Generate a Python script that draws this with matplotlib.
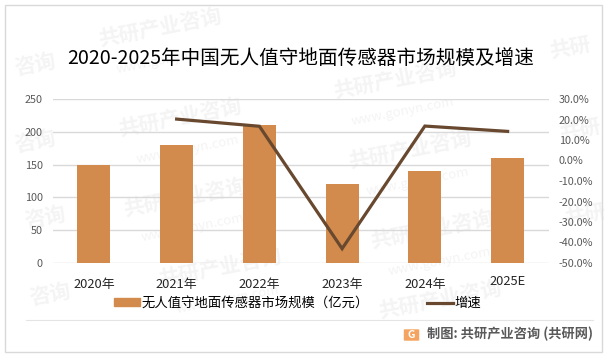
import matplotlib
matplotlib.use('Agg')
import matplotlib.pyplot as plt
import numpy as np
from matplotlib.patches import FancyBboxPatch, Rectangle
from matplotlib.lines import Line2D

plt.rcParams['font.family'] = ['Noto Sans CJK SC', 'DejaVu Sans']

W, H = 609, 358

title = '2020-2025年中国无人值守地面传感器市场规模及增速'
years = ['2020年', '2021年', '2022年', '2023年', '2024年', '2025E']
market_size = [149, 180, 210, 120, 140, 160]
growth = [np.nan, 20.2, 16.7, -43, 16.8, 14.2]
left_ticks = [0, 50, 100, 150, 200, 250]
right_ticks = [-50, -40, -30, -20, -10, 0, 10, 20, 30]
bar_label = '无人值守地面传感器市场规模（亿元）'
line_label = '增速'
source = '制图: 共研产业咨询 (共研网)'

BAR_COLOR = '#d28b4c'
LINE_COLOR = '#68492f'
GRID_COLOR = '#d9d9d9'
TICK_COLOR = '#595959'
MARK_COLOR = '#f4f4f4'

# watermarks: centre in pixels from the top left, then the text
full_mark = '共研产业咨询'
marks = [(160, 28, full_mark), (180, 118, full_mark), (185, 198, full_mark),
         (220, 268, full_mark), (395, 80, full_mark), (410, 150, full_mark),
         (432, 230, full_mark), (440, 300, full_mark), (570, 48, '共研'),
         (580, 130, '共研'), (585, 215, '共研'), (35, 65, '咨询'),
         (35, 142, '咨询'), (45, 218, '咨询'), (50, 295, '咨询')]
urls = [(168, 60), (188, 150), (193, 228), (228, 300), (403, 112), (418, 182),
        (440, 262)]


def fx(px):
    return px / W


def fy(px):
    return 1 - px / H


fig = plt.figure(figsize=(W / 100, H / 100), dpi=100, facecolor='white')

# outer frame
fig.add_artist(Rectangle((fx(4.5), fy(352)), fx(597.5), 347.5 / H, fill=False,
                         edgecolor='#d9d9d9', linewidth=1.0, transform=fig.transFigure))

for mx, my, mtext in marks:
    fig.text(fx(mx), fy(my), mtext, fontsize=15, fontweight='bold', color=MARK_COLOR,
             rotation=11, ha='center', va='center', zorder=-1)
for ux, uy in urls:
    fig.text(fx(ux), fy(uy), 'www.gonyn.com', fontsize=9.5, color=MARK_COLOR,
             rotation=11, ha='center', va='center', zorder=-1)

ax = fig.add_axes([fx(52.5), fy(263), fx(496.5), 164 / H])
ax.patch.set_alpha(0)
x = np.arange(len(years))
ax.bar(x, market_size, width=0.4, color=BAR_COLOR, zorder=2)
ax.set_xlim(-0.5, 5.5)
ax.set_ylim(0, 250)
ax.set_yticks(left_ticks)
ax.set_xticks(x)
ax.set_xticklabels(years, fontsize=9.3, color='#262626')
ax.tick_params(axis='x', length=0, pad=11)
ax.tick_params(axis='y', length=0, pad=7, labelsize=7.8, labelcolor=TICK_COLOR)
ax.grid(axis='y', color=GRID_COLOR, linewidth=1.0, zorder=0)
ax.set_axisbelow(True)
for s in ax.spines.values():
    s.set_visible(False)
# last label sits a little higher in the source
ax.get_xticklabels()[-1].set_y(0.02)

ax2 = ax.twinx()
ax2.plot(x, growth, color=LINE_COLOR, linewidth=2.3, solid_joinstyle='miter', zorder=3)
ax2.set_ylim(-50, 30)
ax2.set_yticks(right_ticks)
ax2.set_yticklabels(['%.1f%%' % t for t in right_ticks])
ax2.tick_params(axis='y', length=0, pad=7, labelsize=7.8, labelcolor=TICK_COLOR)
for s in ax2.spines.values():
    s.set_visible(False)

fig.text(fx(300.5), fy(58), title, fontsize=14.1, color='black', ha='center', va='center')

handles = [Rectangle((0, 0), 1, 1, color=BAR_COLOR),
           Line2D([0], [0], color=LINE_COLOR, linewidth=2.3)]
fig.legend(handles, [bar_label, line_label], loc='center', bbox_to_anchor=(fx(297.5), fy(303)),
           ncol=2, frameon=False, fontsize=9.6, handlelength=1.95, handleheight=0.5,
           handletextpad=0.1, columnspacing=4.35, borderpad=0, borderaxespad=0)

# footer with logo
fig.add_artist(Line2D([fx(26), fx(593)], [fy(320), fy(320)], color='#e4e4e4', linewidth=0.8,
                      transform=fig.transFigure))
fig.add_artist(FancyBboxPatch((fx(405), fy(340)), fx(13), 10 / H, boxstyle='round,pad=0.002',
                              facecolor='#f4a460', edgecolor='none', transform=fig.transFigure))
fig.text(fx(411.5), fy(335), 'G', fontsize=7.5, fontweight='bold', color='white', ha='center', va='center')
fig.text(fx(427), fy(334), source, fontsize=9.5, fontweight='bold', color=TICK_COLOR, ha='left', va='center')

fig.savefig('out.png', dpi=100)
